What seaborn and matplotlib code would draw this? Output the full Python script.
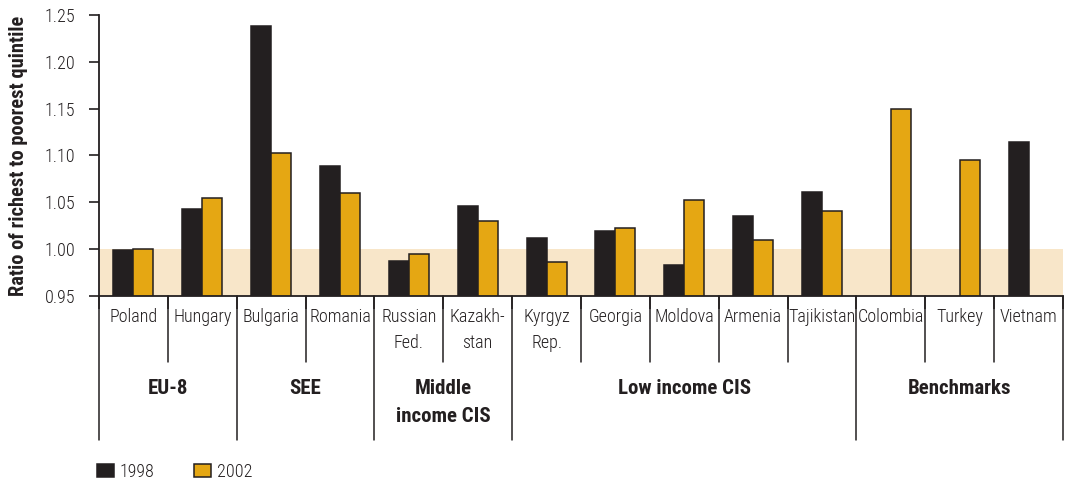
import os
import matplotlib
matplotlib.use("Agg")
import matplotlib.pyplot as plt
from matplotlib import font_manager
from matplotlib.font_manager import FontProperties
import seaborn as sns
import pandas as pd
import numpy as np

# ---- data ----
countries = ["Poland", "Hungary", "Bulgaria", "Romania", "Russian\nFed.", "Kazakh-\nstan",
             "Kyrgyz\nRep.", "Georgia", "Moldova", "Armenia", "Tajikistan",
             "Colombia", "Turkey", "Vietnam"]
values_1998 = [0.999, 1.043, 1.238, 1.089, 0.987, 1.046,
               1.012, 1.019, 0.983, 1.035, 1.061,
               np.nan, np.nan, 1.114]
values_2002 = [1.000, 1.055, 1.103, 1.060, 0.995, 1.030,
               0.986, 1.023, 1.052, 1.010, 1.041,
               1.150, 1.095, np.nan]
years = ["1998", "2002"]
groups = ["EU-8", "SEE", "Middle\nincome CIS", "Low income CIS", "Benchmarks"]
group_sizes = [2, 2, 2, 5, 3]
yticks = [0.95, 1.00, 1.05, 1.10, 1.15, 1.20, 1.25]
ylabel = "Ratio of richest to poorest quintile"

# ---- style ----
dark = "#231f20"
gold = "#e5a713"
band = "#f8e6c9"

sns.set_style("white")


def pick_narrow_font():
    """Return (family, stretch) of an installed condensed sans face, if any."""
    candidates = [("Roboto Condensed", "normal"), ("Liberation Sans Narrow", "normal"),
                  ("Open Sans Condensed", "normal"), ("Open Sans", "condensed"),
                  ("DejaVu Sans", "condensed"), ("Noto Sans", "condensed"),
                  ("Roboto", "condensed")]
    for fam, st in candidates:
        try:
            path = font_manager.findfont(FontProperties(family=fam, stretch=st),
                                         fallback_to_default=False)
        except Exception:
            continue
        base = os.path.basename(path).lower()
        if "cond" in base or "narrow" in base:
            return fam, st
    return "Liberation Sans", "normal"


family, stretch = pick_narrow_font()
plt.rcParams["font.family"] = [family, "DejaVu Sans"]
plt.rcParams["font.stretch"] = stretch
plt.rcParams["text.color"] = dark
plt.rcParams["axes.labelcolor"] = dark
plt.rcParams["xtick.color"] = dark
plt.rcParams["ytick.color"] = dark

narrow = family != "Liberation Sans"
fs = 13 if narrow else 11.5
fs_bold = 15 if narrow else 13
fs_ylab = 14.7 if narrow else 12.5
light = "light" if narrow else "normal"

df = pd.DataFrame({
    "country": countries * 2,
    "year": [years[0]] * len(countries) + [years[1]] * len(countries),
    "value": values_1998 + values_2002,
}).dropna()

fig = plt.figure(figsize=(10.65, 4.83), dpi=100)
ax = fig.add_axes([99 / 1065, 1 - 296 / 483, 964 / 1065, 281 / 483])

ax.axhspan(0.95, 1.00, color=band, zorder=0, lw=0)

sns.barplot(data=df, x="country", y="value", hue="year", order=countries,
            hue_order=years, palette=[dark, gold], saturation=1, width=0.58,
            edgecolor=dark, linewidth=1.1, errorbar=None, ax=ax, zorder=2)

ax.set_ylim(0.95, 1.25)
ax.set_xlim(-0.5, len(countries) - 0.5)
ax.set_yticks(yticks)
ax.set_yticklabels([f"{t:.2f}" for t in yticks], fontsize=fs, fontweight=light)
ax.tick_params(axis="y", direction="out", length=7, width=1.2, pad=10, left=True)

# category boundaries as ticks on the baseline
ax.set_xticks(np.arange(-0.5, len(countries) + 0.5, 1.0))
ax.set_xticklabels([])
ax.tick_params(axis="x", direction="out", length=9, width=1.2, bottom=True)
ax.set_xlabel("")

for side in ["top", "right"]:
    ax.spines[side].set_visible(False)
for side in ["left", "bottom"]:
    ax.spines[side].set_color(dark)
    ax.spines[side].set_linewidth(1.3)

ax.set_ylabel(ylabel, fontsize=fs_ylab, fontweight="bold")
ax.yaxis.set_label_coords(-0.0737, 0.5)

# ---- category table below the axis ----
trans = ax.get_xaxis_transform()
px = 1 / 281.0  # axes fraction per pixel vertically
short_y = -(362 - 296) * px
long_y = -(440 - 296) * px

boundaries = np.cumsum([0] + group_sizes)
group_edges = set(boundaries.tolist())
for i in range(len(countries) + 1):
    y_end = long_y if i in group_edges else short_y
    ax.plot([i - 0.5, i - 0.5], [0, y_end], color=dark, lw=1.1,
            transform=trans, clip_on=False)

for i, name in enumerate(countries):
    ax.text(i, -(308 - 296) * px, name, transform=trans, ha="center", va="top",
            fontsize=fs, fontweight=light, linespacing=1.57)

for g, start, size in zip(groups, boundaries[:-1], group_sizes):
    cx = start - 0.5 + size / 2
    ax.text(cx, -(379 - 296) * px, g, transform=trans, ha="center", va="top",
            fontsize=fs_bold, fontweight="bold", linespacing=1.62)

# ---- legend ----
sns.move_legend(ax, "center left", bbox_to_anchor=(97 / 1065, 1 - 472 / 483),
                bbox_transform=fig.transFigure, ncol=2, frameon=False, title=None,
                fontsize=fs, handlelength=0.95, handleheight=0.75,
                handletextpad=0.3, columnspacing=2.2, borderpad=0, borderaxespad=0)
for t in ax.get_legend().get_texts():
    t.set_fontweight(light)

fig.savefig("out.png", dpi=100)
